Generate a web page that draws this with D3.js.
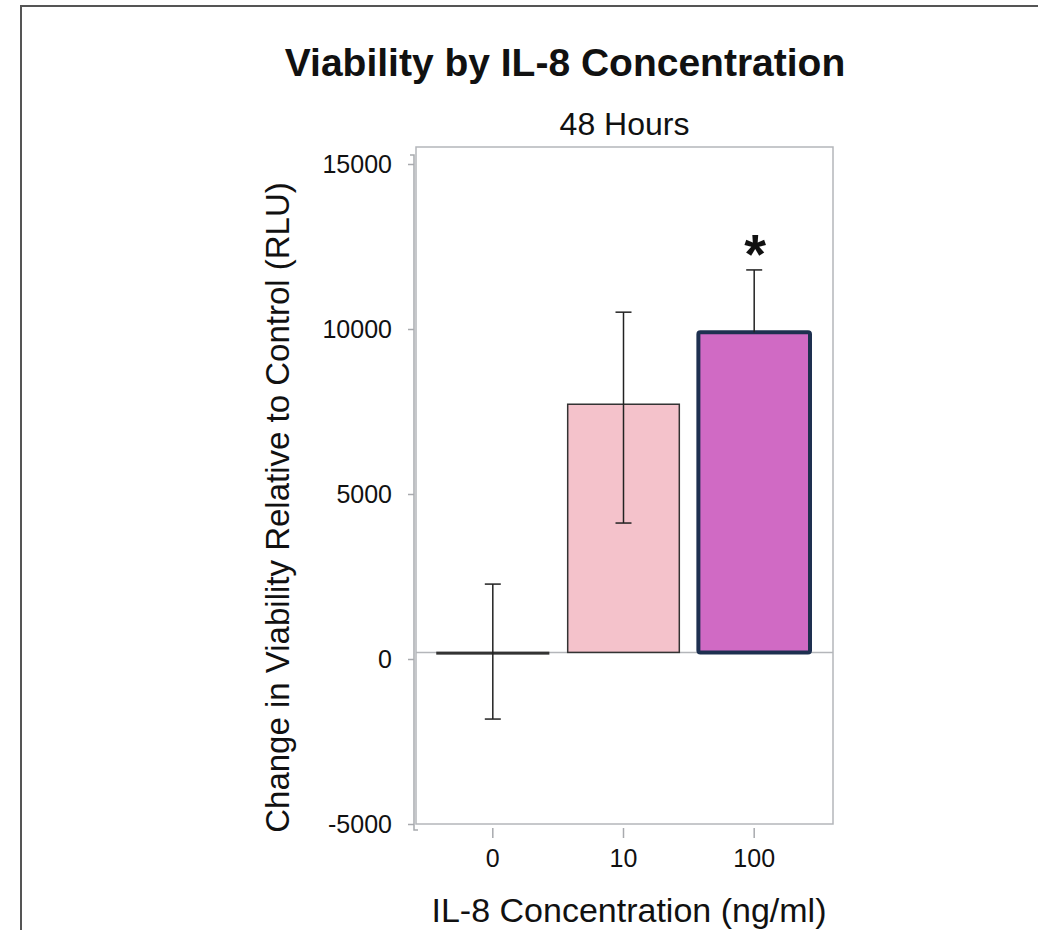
<!DOCTYPE html>
<html>
<head>
<meta charset="utf-8">
<script src="https://cdn.jsdelivr.net/npm/d3@7"></script>
<style>
  html, body { margin: 0; padding: 0; background: #fff; }
  svg { display: block; font-family: "Liberation Sans", Arial, Helvetica, sans-serif; }
</style>
</head>
<body>
<svg id="chart" width="1038" height="930"></svg>
<script>
// ---- data ----
const categories = ["0", "10", "100"];
const means = [200, 7720, 9900];
const errUpper = [2270, 10510, 11790];
const errLower = [-1820, 4120, 8010];
const baseline = 200;
const yTicks = [-5000, 0, 5000, 10000, 15000];
const yTickLabels = ["-5000", "0", "5000", "10000", "15000"];
const fills = ["#8c8c8c", "#f4c2cb", "#d06ac4"];
const strokes = ["#333333", "#333333", "#1e3050"];
const strokeWidths = [1.5, 1.5, 4];
const significant = [false, false, true];
const titleText = "Viability by IL-8 Concentration";
const subtitleText = "48 Hours";
const xTitle = "IL-8 Concentration (ng/ml)";
const yTitle = "Change in Viability Relative to Control (RLU)";

// ---- layout ----
const svg = d3.select("#chart");
const plot = { left: 416, right: 833, top: 147, bottom: 824 };

const y = d3.scaleLinear().domain([-5000, 15000]).range([824, 164]);
const x = d3.scaleBand().domain(categories)
  .range([437, 810]).paddingInner(0.146).paddingOuter(0);

// page border (top & left)
svg.append("path")
  .attr("d", `M21,1000 L21,6 L1040,6`)
  .attr("fill", "none").attr("stroke", "#555").attr("stroke-width", 2);

// title
svg.append("text").attr("x", 565).attr("y", 76)
  .attr("text-anchor", "middle").attr("font-size", 39).attr("font-weight", "bold")
  .attr("fill", "#111").text(titleText);
svg.append("text").attr("x", (plot.left + plot.right) / 2).attr("y", 135)
  .attr("text-anchor", "middle").attr("font-size", 32).attr("fill", "#111").text(subtitleText);

// frame
svg.append("rect")
  .attr("x", plot.left).attr("y", plot.top)
  .attr("width", plot.right - plot.left).attr("height", plot.bottom - plot.top)
  .attr("fill", "none").attr("stroke", "#b4b6ba").attr("stroke-width", 1.5);

// y axis
const yAxis = d3.axisLeft(y).tickValues(yTicks).tickSize(4).tickPadding(18)
  .tickFormat((d, i) => yTickLabels[i]);
const gy = svg.append("g").attr("transform", `translate(${plot.left - 2},0)`).call(yAxis);
gy.select(".domain").attr("d", `M-4,155 H0 V830 H4`).attr("stroke", "#a8aaae").attr("stroke-width", 1.5).attr("fill", "none");
gy.selectAll(".tick line").attr("stroke", "#a8aaae").attr("stroke-width", 1.5).attr("x2", -6);
gy.selectAll(".tick text").attr("font-size", 25).attr("fill", "#111")
  .attr("font-family", "Liberation Sans, Arial, sans-serif");

// x axis
const xAxis = d3.axisBottom(x).tickSize(13).tickPadding(11);
const gx = svg.append("g").attr("transform", `translate(0,${plot.bottom + 1})`).call(xAxis);
gx.select(".domain").remove();
gx.selectAll(".tick line").attr("stroke", "#a8aaae").attr("stroke-width", 1.5).attr("y1", 3);
gx.selectAll(".tick text").attr("font-size", 25).attr("fill", "#111")
  .attr("font-family", "Liberation Sans, Arial, sans-serif");

// axis titles
svg.append("text").attr("x", 629).attr("y", 922)
  .attr("text-anchor", "middle").attr("font-size", 34).attr("fill", "#111").text(xTitle);
svg.append("text")
  .attr("transform", `translate(289,${(185 + 830) / 2}) rotate(-90)`)
  .attr("text-anchor", "middle").attr("font-size", 33).attr("fill", "#111").text(yTitle);

// reference line at baseline
svg.append("line")
  .attr("x1", plot.left).attr("x2", plot.right)
  .attr("y1", y(baseline)).attr("y2", y(baseline))
  .attr("stroke", "#b4b6ba").attr("stroke-width", 1.5);

// bars
const data = categories.map((c, i) => ({
  c, mean: means[i], hi: errUpper[i], lo: errLower[i],
  fill: fills[i], stroke: strokes[i], sw: strokeWidths[i], sig: significant[i]
}));

svg.append("g").selectAll("rect").data(data).join("rect")
  .attr("x", d => x(d.c))
  .attr("width", x.bandwidth())
  .attr("y", d => Math.min(y(d.mean), y(baseline)))
  .attr("height", d => Math.max(Math.abs(y(baseline) - y(d.mean)), 1.5))
  .attr("fill", d => d.fill)
  .attr("stroke", d => d.stroke)
  .attr("stroke-width", d => d.sw)
  .attr("rx", d => d.sw > 2 ? 2 : 0);

// error bars
const capW = 8;
const eb = svg.append("g").attr("stroke", "#222").attr("stroke-width", 1.5);
data.forEach(d => {
  const cx = x(d.c) + x.bandwidth() / 2;
  eb.append("line").attr("x1", cx).attr("x2", cx).attr("y1", y(d.hi)).attr("y2", d.sig ? y(d.mean) : y(d.lo));
  eb.append("line").attr("x1", cx - capW).attr("x2", cx + capW).attr("y1", y(d.hi)).attr("y2", y(d.hi));
  if (!d.sig) {
    eb.append("line").attr("x1", cx - capW).attr("x2", cx + capW).attr("y1", y(d.lo)).attr("y2", y(d.lo));
  }
});

// significance markers
svg.append("g").selectAll("text").data(data.filter(d => d.sig)).join("text")
  .attr("x", d => x(d.c) + x.bandwidth() / 2 + 1)
  .attr("y", d => y(d.hi) + 3)
  .attr("text-anchor", "middle").attr("font-size", 56).attr("font-weight", "bold")
  .attr("fill", "#111").text("*");
</script>
</body>
</html>
